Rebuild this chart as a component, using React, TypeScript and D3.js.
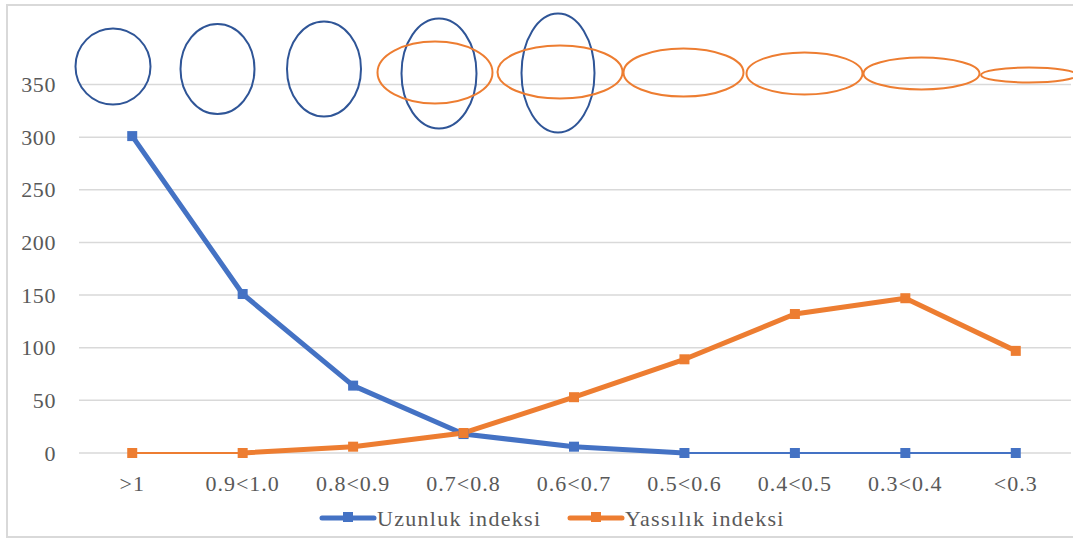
import React from "react";
import * as d3 from "d3";

const categories = [">1", "0.9<1.0", "0.8<0.9", "0.7<0.8", "0.6<0.7", "0.5<0.6", "0.4<0.5", "0.3<0.4", "<0.3"];
const uzunluk = [301, 151, 64, 18, 6, 0, 0, 0, 0];
const yassilik = [0, 0, 6, 19, 53, 89, 132, 147, 97];
const yTicks = [0, 50, 100, 150, 200, 250, 300, 350];
const seriesNames = ["Uzunluk indeksi", "Yassılık indeksi"];

// decorative grain-shape illustrations: [cx, cy, rx, ry]
const blueShapes = [
  [113, 66.5, 37.5, 38],
  [217.5, 69, 37, 45],
  [324, 69, 37, 47.5],
  [439, 73.5, 37.5, 55],
  [558, 73, 36.5, 59.5],
];
const orangeShapes = [
  [435, 72.5, 57.5, 31],
  [560, 72, 62.5, 26.5],
  [683.5, 72.5, 60, 24],
  [804.5, 73.5, 58, 21],
  [921.5, 73.5, 58, 16],
  [1029, 75, 48, 7.5],
];

const W = 1073;
const H = 540;
const BLUE = "#4472C4";
const ORANGE = "#ED7D31";
const TEXT = "#595959";
const FONT = "'Liberation Serif', 'DejaVu Serif', serif";

export default function App() {
  const x = d3.scaleBand<string>().domain(categories).range([77, 1071]).padding(0);
  const cx = (c: string) => (x(c) as number) + x.bandwidth() / 2;
  const y = d3.scaleLinear().domain([0, 350]).range([453, 84.5]);

  const series = [
    { name: seriesNames[0], values: uzunluk, color: BLUE },
    { name: seriesNames[1], values: yassilik, color: ORANGE },
  ];

  const line = d3
    .line<[number, number]>()
    .x((d) => d[0])
    .y((d) => d[1]);

  return (
    <svg width={W} height={H} style={{ position: "absolute", left: 0, top: 0, background: "#fff" }}>
      <rect x={7} y={5} width={W + 10} height={532} fill="#fff" stroke="#D9D9D9" strokeWidth={2} />
      {yTicks.map((t) => (
        <g key={t}>
          <line x1={79} x2={1071} y1={y(t)} y2={y(t)} stroke="#D9D9D9" strokeWidth={1.5} />
          <text x={56} y={y(t) + 7.5} textAnchor="end" fontFamily={FONT} fontSize={22} letterSpacing={0.6} fill={TEXT}>
            {t}
          </text>
        </g>
      ))}
      {categories.map((c) => (
        <text key={c} x={cx(c)} y={491} textAnchor="middle" fontFamily={FONT} fontSize={22} letterSpacing={1} fill={TEXT}>
          {c}
        </text>
      ))}
      {series.map((s) =>
        s.values.slice(1).map((v, i) => {
          const a = s.values[i];
          const thin = a === 0 && v === 0;
          const p: [number, number][] = [
            [cx(categories[i]), y(a)],
            [cx(categories[i + 1]), y(v)],
          ];
          return (
            <path
              key={s.name + i}
              d={line(p) || ""}
              fill="none"
              stroke={s.color}
              strokeWidth={thin ? 2 : 5}
              strokeLinecap="round"
              strokeLinejoin="round"
            />
          );
        })
      )}
      {series.map((s) =>
        s.values.map((v, i) => (
          <rect
            key={s.name + "m" + i}
            x={cx(categories[i]) - 5}
            y={y(v) - 5}
            width={10}
            height={10}
            fill={s.color}
          />
        ))
      )}
      {blueShapes.map((e, i) => (
        <ellipse key={"b" + i} cx={e[0]} cy={e[1]} rx={e[2]} ry={e[3]} fill="none" stroke="#2F5597" strokeWidth={2} />
      ))}
      {orangeShapes.map((e, i) => (
        <ellipse key={"o" + i} cx={e[0]} cy={e[1]} rx={e[2]} ry={e[3]} fill="none" stroke={ORANGE} strokeWidth={2} />
      ))}
      {series.map((s, i) => {
        const lx = i === 0 ? 322 : 570;
        return (
          <g key={"lg" + i}>
            <line x1={lx} x2={lx + 52} y1={518} y2={518} stroke={s.color} strokeWidth={5} strokeLinecap="round" />
            <rect x={lx + 21} y={512} width={10} height={10} fill={s.color} />
            <text x={lx + 55} y={526} fontFamily={FONT} fontSize={22} letterSpacing={1.3} fill={TEXT}>
              {s.name}
            </text>
          </g>
        );
      })}
    </svg>
  );
}
